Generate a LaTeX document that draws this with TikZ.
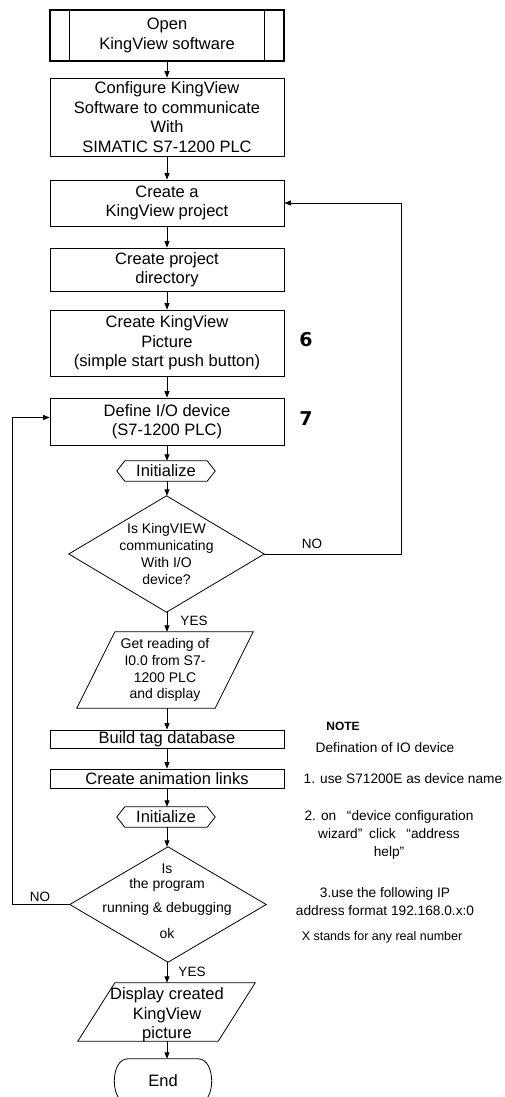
\documentclass[tikz,border=0pt]{standalone}
\usepackage{fontspec}
\setmainfont{Liberation Sans}
\newfontfamily\numfont{DejaVu Sans}
\usetikzlibrary{arrows.meta}
\begin{document}
\begin{tikzpicture}[x=1pt,y=-1pt,
  base/.style={inner sep=0pt, align=center, font=\fontsize{16.5}{19.5}\selectfont},
  proc/.style={base, draw, line width=0.8pt, minimum width=234pt},
  shp/.style={line width=0.8pt},
  dtext/.style={inner sep=0pt, align=center, font=\fontsize{14}{16.8}\selectfont},
  arr/.style={line width=0.9pt, -{Triangle[length=6.5pt,width=5pt]}},
  lbl/.style={inner sep=0pt, font=\fontsize{13.5}{16}\selectfont},
  note/.style={inner sep=0pt, align=center, font=\fontsize{13.7}{18}\selectfont},
  num/.style={inner sep=0pt, font=\numfont\fontsize{19}{23}\bfseries\selectfont}]
\useasboundingbox (0,0) rectangle (504,1097);
\fill[white] (0,0) rectangle (504,1097);

% main column
\node[proc, line width=1.3pt, minimum height=51pt] (b1) at (167,35.5) {Open\\KingView software};
\draw[line width=0.9pt] ([xshift=20pt]b1.north west) -- ([xshift=20pt]b1.south west);
\draw[line width=0.9pt] ([xshift=-20pt]b1.north east) -- ([xshift=-20pt]b1.south east);
\node[proc, minimum height=78pt] (b2) at (167,117) {Configure KingView\\Software to communicate\\With\\SIMATIC S7-1200 PLC};
\node[proc, minimum height=46pt] (b3) at (167,203) {Create a\\KingView project};
\node[proc, minimum height=43pt] (b4) at (167,269.5) {Create project\\directory};
\node[proc, minimum height=66pt] (b5) at (167,343) {Create KingView\\Picture\\(simple start push button)};
\node[proc, minimum height=47pt] (b6) at (167,421.5) {Define I/O device\\(S7-1200 PLC)};
\node[num] (n6) at (306,340) {6};
\node[num] (n7) at (306,419) {7};

\node[base, minimum width=98pt, minimum height=20pt] (i1) at (166,471) {Initialize};
\draw[shp] (i1.west) -- ([xshift=8pt]i1.north west) -- ([xshift=-8pt]i1.north east) -- (i1.east)
  -- ([xshift=-8pt]i1.south east) -- ([xshift=8pt]i1.south west) -- cycle;

\node[dtext, minimum width=195pt, minimum height=116pt] (d1) at (166.5,554) {Is KingVIEW\\communicating\\With I/O\\device?};
\draw[shp] (d1.north) -- (d1.east) -- (d1.south) -- (d1.west) -- cycle;

\node[dtext, minimum width=176pt, minimum height=76pt] (p1) at (165,670) {Get reading of\\I0.0 from S7-\\1200 PLC\\and display};
\draw[shp] ([xshift=38pt]p1.north west) -- (p1.north east) -- ([xshift=-38pt]p1.south east) -- (p1.south west) -- cycle;

\node[proc, minimum height=18pt] (b7) at (167,739) {Build tag database};
\node[proc, minimum height=19pt] (b8) at (167,778.5) {Create animation links};

\node[base, minimum width=98pt, minimum height=20pt] (i2) at (166,817) {Initialize};
\draw[shp] (i2.west) -- ([xshift=8pt]i2.north west) -- ([xshift=-8pt]i2.north east) -- (i2.east)
  -- ([xshift=-8pt]i2.south east) -- ([xshift=8pt]i2.south west) -- cycle;

\node[minimum width=196pt, minimum height=115pt, inner sep=0pt] (d2) at (168,904.5) {};
\draw[shp] (d2.north) -- (d2.east) -- (d2.south) -- (d2.west) -- cycle;
\node[dtext, font=\fontsize{14}{17}\selectfont] (d2t) at (167,901.5) {Is\\[-2pt]the program\\[7pt]running \& debugging\\[9pt]ok};

\node[minimum width=177pt, minimum height=58pt, inner sep=0pt] (p2) at (166.5,1012) {};
\draw[shp] ([xshift=37pt]p2.north west) -- (p2.north east) -- ([xshift=-37pt]p2.south east) -- (p2.south west) -- cycle;
\node[base] (p2t) at (167,1015) {Display created\\KingView\\picture};

\node[base, minimum width=98pt, minimum height=44pt] (e) at (163,1081) {End};
\draw[shp] ([xshift=14pt]e.north west) -- ([xshift=-14pt]e.north east)
  .. controls ([xshift=4pt]e.north east) and ([xshift=4pt]e.south east) .. ([xshift=-14pt]e.south east)
  -- ([xshift=14pt]e.south west)
  .. controls ([xshift=-4pt]e.south west) and ([xshift=-4pt]e.north west) .. ([xshift=14pt]e.north west);

% connectors
\draw[arr] (b1.south) -- (b2.north);
\draw[arr] (b2.south) -- (b3.north);
\draw[arr] (b3.south) -- (b4.north);
\draw[arr] (b4.south) -- (b5.north);
\draw[arr] (b5.south) -- (b6.north);
\draw[arr] (b6.south) -- (b6.south |- i1.north);
\draw[arr] (b6.south |- i1.south) -- (b6.south |- d1.north);
\draw[arr] (b6.south |- d1.south) -- (b6.south |- p1.north);
\draw[arr] (b6.south |- p1.south) -- (b7.north);
\draw[arr] (b7.south) -- (b8.north);
\draw[arr] (b8.south) -- (b8.south |- i2.north);
\draw[arr] (b8.south |- i2.south) -- (b8.south |- d2.north);
\draw[arr] (b8.south |- d2.south) -- (b8.south |- p2.north);
\draw[arr] (b8.south |- p2.south) -- (b8.south |- e.north);

\coordinate (rx) at (401,0);
\coordinate (lx) at (12,0);
\draw[arr] (d1.east) -- (d1.east -| rx) |- (b3.east);
\draw[arr] (d2.west) -- (d2.west -| lx) |- ([yshift=4pt]b6.west);

\node[lbl] (no1) at (312,544) {NO};
\node[lbl] (yes1) at (194,621) {YES};
\node[lbl] (no2) at (40,897) {NO};
\node[lbl] (yes2) at (192,972) {YES};

% note
\node[inner sep=0pt, font=\fontsize{12}{14}\bfseries\selectfont] (nt) at (343,726) {NOTE};
\node[note] (n0) at (385,748) {Defination of IO device};
\node[note] (n1) at (403,779) {1. use S71200E as device name};
\node[note] (n2) at (389,835) {2. on \enspace“device configuration\\wizard”\enspace click \enspace“address\\help”};
\node[note] (n3) at (385,902) {3.use the following IP\\address format 192.168.0.x:0};
\node[note, font=\fontsize{12.5}{15}\selectfont] (n4) at (382,937) {X stands for any real number};
\end{tikzpicture}
\end{document}
